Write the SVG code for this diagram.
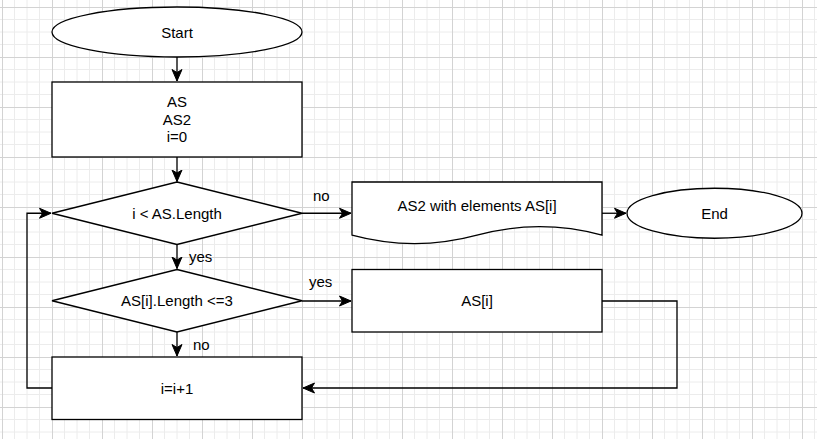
<svg xmlns="http://www.w3.org/2000/svg" width="817" height="439" viewBox="0 0 817 439">
<style>
.shape{fill:#fff;stroke:#000;stroke-width:1.3}
.lbl{font-family:"Liberation Sans",Arial,sans-serif;font-size:15px;fill:#000;text-anchor:middle}
.elbl{font-family:"Liberation Sans",Arial,sans-serif;font-size:15px;fill:#000}
.edge{fill:none;stroke:#000;stroke-width:1.3}
.arr{fill:none;stroke:#000;stroke-width:1.3;marker-end:url(#ah)}
</style>
<defs>
<pattern id="grid" patternUnits="userSpaceOnUse" x="2" y="7" width="50" height="50">
<path d="M12.5 0V50M25 0V50M37.5 0V50M0 12.5H50M0 25H50M0 37.5H50" stroke="#ececec" stroke-width="1" fill="none"/>
<path d="M0.5 0V50M0 0.5H50" stroke="#d3d3d3" stroke-width="1" fill="none"/>
</pattern>
<marker id="ah" markerUnits="userSpaceOnUse" markerWidth="14" markerHeight="12" viewBox="-12 -6 14 12" refX="0" refY="0" orient="auto">
<path d="M-11.5 -5 L0 0 L-11.5 5 L-8.5 0 Z" fill="#000" stroke="#000" stroke-width="1"/>
</marker>
</defs>
<rect x="0" y="0" width="817" height="439" fill="#fff"/>
<rect x="0" y="0" width="817" height="439" fill="url(#grid)"/>

<g id="connectors">
<path class="arr" d="M177 57V81"/>
<path class="arr" d="M177 157V181.5"/>
<path class="arr" d="M302 213.25H351"/>
<path class="arr" d="M602 213.25H626"/>
<path class="arr" d="M177 244.5V268.5"/>
<path class="arr" d="M302 301H351"/>
<path class="arr" d="M177 332V356"/>
<path class="arr" d="M602 301H677V388H303"/>
<path class="arr" d="M52 388H27V213.25H51"/>
<text class="elbl" x="313" y="200.5">no</text>
<text class="elbl" x="189" y="261.5">yes</text>
<text class="elbl" x="309" y="286.5">yes</text>
<text class="elbl" x="193" y="350">no</text>
</g>

<g id="start">
<ellipse class="shape" cx="177" cy="32" rx="125" ry="25"/>
<text class="lbl" x="177" y="37.5">Start</text>
</g>

<g id="init">
<rect class="shape" x="52" y="82" width="250" height="75"/>
<text class="lbl" x="177" y="107">AS</text>
<text class="lbl" x="177" y="124.5">AS2</text>
<text class="lbl" x="177" y="142">i=0</text>
</g>

<g id="cond1">
<path class="shape" d="M177 182L302 213.25L177 244.5L52 213.25Z"/>
<text class="lbl" x="177" y="218.5">i &lt; AS.Length</text>
</g>

<g id="output">
<path class="shape" d="M352 182H602V235.1Q539.5 218.25 477 235.1Q414.5 252 352 235.1Z"/>
<text class="lbl" x="477" y="210.5">AS2 with elements AS[i]</text>
</g>

<g id="end">
<ellipse class="shape" cx="714.5" cy="213.25" rx="87.5" ry="25"/>
<text class="lbl" x="714.5" y="218.5">End</text>
</g>

<g id="cond2">
<path class="shape" d="M177 269.5L302 300.75L177 332L52 300.75Z"/>
<text class="lbl" x="177" y="306">AS[i].Length &lt;=3</text>
</g>

<g id="asi">
<rect class="shape" x="352" y="269.5" width="250" height="62.5"/>
<text class="lbl" x="477" y="306">AS[i]</text>
</g>

<g id="incr">
<rect class="shape" x="52" y="357" width="250" height="62.5"/>
<text class="lbl" x="177" y="393.5">i=i+1</text>
</g>
</svg>
